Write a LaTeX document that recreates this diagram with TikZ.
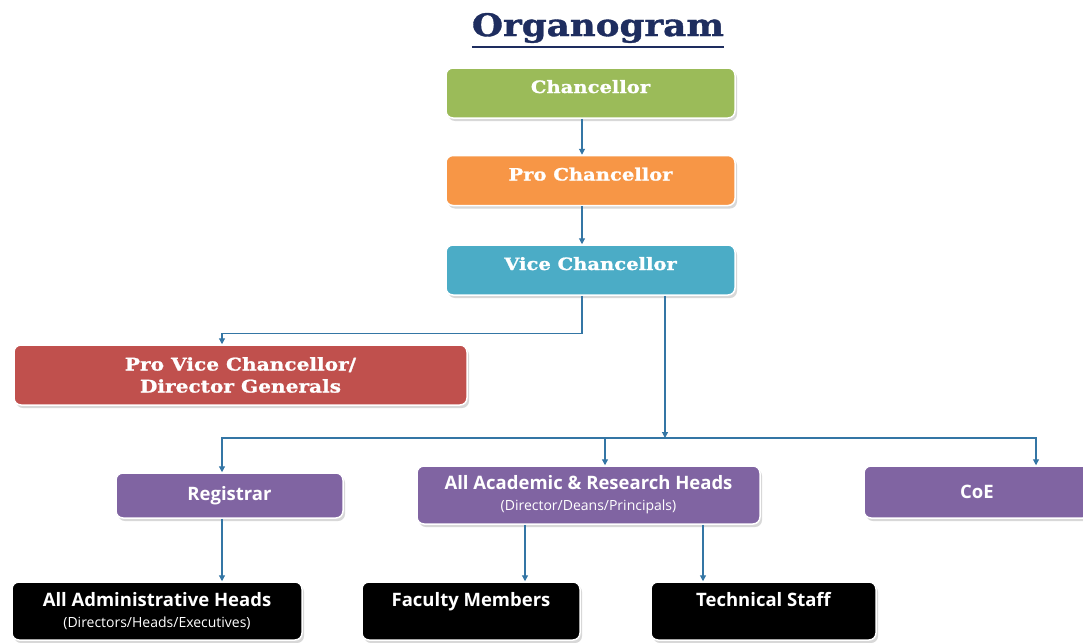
\documentclass[tikz,border=0pt]{standalone}
\usepackage{fontspec}
\setmainfont{DejaVu Serif}
\setsansfont{Open Sans}
\newfontfamily\wideserif[FakeStretch=1.15,FakeBold=1.2]{DejaVu Serif}
\usetikzlibrary{arrows.meta}
\usetikzlibrary{positioning}
\usetikzlibrary{shadows}
\definecolor{chancgreen}{RGB}{155,187,89}
\definecolor{proorange}{RGB}{247,150,70}
\definecolor{vcblue}{RGB}{75,172,198}
\definecolor{pvcred}{RGB}{192,80,77}
\definecolor{headpurple}{RGB}{128,100,162}
\definecolor{linkblue}{RGB}{52,118,165}
\definecolor{titlenavy}{RGB}{30,45,95}
\tikzset{
  box/.style={draw=white,line width=1.5pt,rounded corners=7pt,text=white,inner sep=0pt,align=center,
    drop shadow={shadow xshift=2pt,shadow yshift=-3pt,fill=black!30}},
  topbox/.style={box,font=\wideserif\bfseries\fontsize{17}{22}\selectfont,minimum width=289pt,text height=25pt,text depth=25pt},
  headbox/.style={box,fill=headpurple,font=\sffamily\bfseries\fontsize{18.5}{21}\selectfont},
  staffbox/.style={box,fill=black,font=\sffamily\bfseries\fontsize{18.5}{21}\selectfont,minimum height=58pt},
  link/.style={draw=linkblue,line width=1.2pt,-{Triangle[length=6pt,width=6pt]}}
}
\begin{document}
\begin{tikzpicture}[x=1pt,y=-1pt]
  \useasboundingbox (0,0) rectangle (1083,642);
  \fill[white] (0,0) rectangle (1083,642);
  % title
  \node[font=\wideserif\bfseries\fontsize{31}{34}\selectfont,text=titlenavy,inner sep=0pt] (title) at (598,28) {Organogram};
  \draw[titlenavy,line width=2pt] ([yshift=-4pt]title.south west) -- ([yshift=-4pt]title.south east);
  % top of the chart
  \node[topbox,fill=chancgreen] (chan) at (590.5,93) {Chancellor};
  \node[topbox,fill=proorange,below=36pt of chan] (pro) {Pro Chancellor};
  \node[topbox,fill=vcblue,below=38pt of pro] (vc) {Vice Chancellor};
  \node[box,fill=pvcred,font=\wideserif\bfseries\fontsize{17.5}{22}\selectfont,minimum width=453pt,minimum height=60pt] (pvc) at (240.5,375) {Pro Vice Chancellor/\\Director Generals};
  % heads
  \node[headbox,minimum width=227pt,minimum height=45pt] (reg) at (229.5,495.5) {Registrar};
  \node[headbox,minimum width=343pt,minimum height=58pt] (acad) at (588.5,495) {All Academic \& Research Heads\\{\mdseries\fontsize{14}{14}\selectfont (Director/Deans/Principals)}};
  \node[headbox,minimum width=226pt,minimum height=52pt] (coe) at (977,492) {CoE};
  % staff
  \node[staffbox,minimum width=290pt] (admin) at (157,611) {All Administrative Heads\\{\mdseries\fontsize{14}{14}\selectfont (Directors/Heads/Executives)}};
  \node[staffbox,minimum width=218pt,text height=24pt,text depth=34pt] (fac) at (471,611) {Faculty Members};
  \node[staffbox,minimum width=225pt,text height=24pt,text depth=34pt] (tech) at (763.5,611) {Technical Staff};
  % links
  \coordinate (bus) at (665,438);
  \draw[link] ([xshift=-8.5pt]chan.south) -- ([xshift=-8.5pt]pro.north);
  \draw[link] ([xshift=-8.5pt]pro.south) -- ([xshift=-8.5pt]vc.north);
  \draw[link] ([xshift=-8.5pt]vc.south) -- ++(0,38) -| ([xshift=-18.5pt]pvc.north);
  \draw[link] ([xshift=74.5pt]vc.south) -- (bus);
  \draw[link] (bus) -| ([xshift=-7.5pt]reg.north);
  \draw[link] (bus) -| ([xshift=16.5pt]acad.north);
  \draw[link] (bus) -| ([xshift=59pt]coe.north);
  \draw[link] ([xshift=-7.5pt]reg.south) -- ([xshift=65pt]admin.north);
  \draw[link] ([xshift=-63.5pt]acad.south) -- ([xshift=54pt]fac.north);
  \draw[link] ([xshift=114.5pt]acad.south) -- ([xshift=-60.5pt]tech.north);
\end{tikzpicture}
\end{document}
